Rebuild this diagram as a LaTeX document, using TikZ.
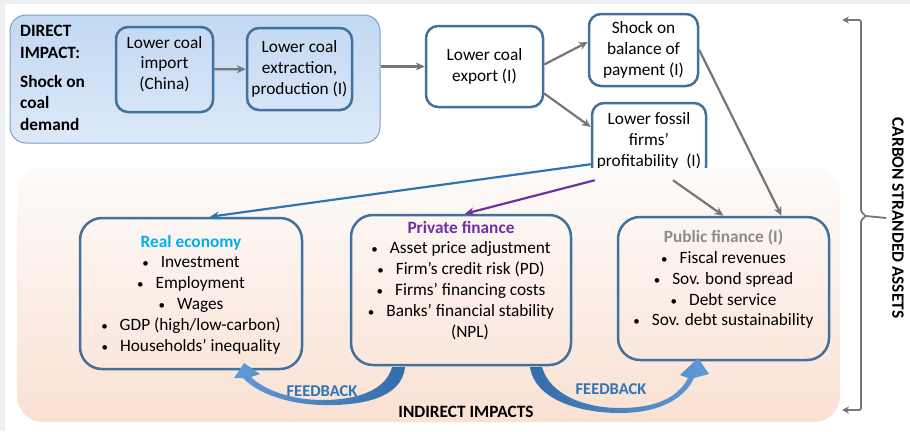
\documentclass[tikz,border=0pt]{standalone}
\usepackage{fontspec}
\setmainfont{Carlito}
\usepackage{xcolor}
\usetikzlibrary{arrows.meta, positioning, calc}
\definecolor{boxblue}{RGB}{65,113,156}
\definecolor{dirline}{RGB}{125,158,200}
\definecolor{dirtop}{RGB}{194,216,242}
\definecolor{dirbot}{RGB}{221,233,248}
\definecolor{paneltop}{RGB}{253,251,250}
\definecolor{panelbot}{RGB}{250,225,211}
\definecolor{arrgray}{RGB}{118,118,118}
\definecolor{lineblue}{RGB}{46,117,182}
\definecolor{purp}{RGB}{112,48,160}
\definecolor{reblue}{RGB}{0,176,240}
\definecolor{pubgray}{RGB}{140,140,140}
\definecolor{fbdark}{RGB}{52,108,170}
\definecolor{fblight}{RGB}{95,155,215}
\definecolor{frame}{RGB}{238,240,243}
\newcommand{\bpt}{{\fontsize{13}{13}\selectfont\textbullet}\hspace{12pt}}

\begin{document}
\begin{tikzpicture}[x=1pt, y=-1pt,
    every node/.style={font=\fontsize{17.3}{20.8}\selectfont, align=center, inner sep=0pt},
    box/.style={draw=boxblue, line width=2.5pt, rounded corners=12pt},
    bigbox/.style={draw=boxblue, line width=2.5pt, rounded corners=22pt},
    garrow/.style={draw=arrgray, line width=2.2pt, -{Stealth[length=9pt, width=8pt]}},
    hd/.style={font=\fontsize{17.3}{21.5}\selectfont\bfseries}]
    \useasboundingbox (0,0) rectangle (910,431);
    \fill[frame] (0,0) rectangle (910,4);
    \fill[frame] (0,0) rectangle (5,431);

    % 直接影响
    \node[draw=dirline, line width=1pt, rounded corners=16pt, top color=dirtop, bottom color=dirbot,
          minimum width=370pt, minimum height=128pt] (dir) at (195,79) {};
    \node[hd, anchor=north west, align=left] (dirt) at (20,25) {DIRECT\\IMPACT:};
    \node[hd, anchor=north west, align=left] (shock) at (20,75) {Shock on\\coal\\demand};
    \node[box, minimum width=97pt, minimum height=85pt] (imp) at (164.5,69.5) {};
    \node (impt) at (164.5,64) {Lower coal\\import\\(China)};
    \node[box, minimum width=105pt, minimum height=82pt] (extr) at (299.5,69) {Lower coal\\extraction,\\production (I)};
    \node[box, fill=white, minimum width=117pt, minimum height=81pt] (exp) at (484.5,66.5) {Lower coal\\export (I)};
    \node[box, fill=white, minimum width=109pt, minimum height=72pt] (bal) at (643.5,50) {Shock on\\balance of\\payment (I)};
    \node[box, fill=white, minimum width=114pt, minimum height=76pt] (prof) at (649,141) {Lower fossil\\firms’\\profitability~~(I)};

    \draw[garrow] (imp) -- (extr);
    \draw[garrow] (dir.east |- exp.west) -- (exp.west);
    \draw[garrow] ([yshift=2pt]exp.east) -- ([yshift=8pt]bal.west);
    \draw[garrow] ([yshift=-27pt]exp.east) -- ([yshift=14pt]prof.west);

    % 间接影响
    \node[rounded corners=26pt, top color=paneltop, bottom color=panelbot,
          minimum width=823pt, minimum height=254pt] (ind) at (428.5,295) {};
    \node[bigbox, minimum width=222pt, minimum height=151pt] (re) at (191,293.5) {};
    \node[bigbox, minimum width=220pt, minimum height=150pt] (pri) at (461,290) {};
    \node[bigbox, minimum width=211pt, minimum height=143pt] (pub) at (723.5,288.5) {};

    \node[below=18pt of re.north] (ret) {{\bfseries\color{reblue}Real economy}\\
        \bpt Investment\\
        \bpt Employment\\
        \bpt Wages\\
        \bpt GDP (high/low-carbon)\\
        \bpt Households’ inequality};
    \node[below=7pt of pri.north] (prit) {{\bfseries\color{purp}Private finance}\\
        \bpt Asset price adjustment\\
        \bpt Firm’s credit risk (PD)\\
        \bpt Firms’ financing costs\\
        \bpt Banks’ financial stability\\
        \hspace*{18pt}(NPL)};
    \node[below=14pt of pub.north] (pubt) {{\bfseries\color{pubgray}Public finance (I)}\\
        \bpt Fiscal revenues\\
        \bpt Sov. bond spread\\
        \bpt Debt service\\
        \bpt Sov. debt sustainability};

    \draw[lineblue, line width=2.2pt, -{Stealth[length=9pt, width=8pt]}] ([yshift=16pt]prof.south west) -- ([xshift=19pt]re.north);
    \draw[purp, line width=2.2pt, -{Stealth[length=9pt, width=8pt]}] ([xshift=4pt]prof.south west) -- ([xshift=4pt]pri.north);
    \draw[garrow] ([xshift=24pt]prof.south) -- (pub.north);
    \draw[garrow] (bal.east) -- ([xshift=58pt]pub.north);

    % 反馈
    \shade[left color=fblight, right color=fbdark]
        (405,367) .. controls (402,398) and (362,406) .. (322,405)
        .. controls (285,404) and (256,392) .. (243,378)
        -- (234,378) -- (244,363) -- (260,374) -- (251,377)
        .. controls (264,390) and (292,400) .. (322,400)
        .. controls (358,400) and (386,390) .. (392,367) -- cycle;
    \shade[left color=fbdark, right color=fblight]
        (530,367) .. controls (535,400) and (580,413) .. (620,413)
        .. controls (660,413) and (685,398) .. (694,378)
        -- (709,374) -- (698,358) -- (680,375) -- (688,378)
        .. controls (678,398) and (655,408) .. (620,408)
        .. controls (585,408) and (550,395) .. (542,367) -- cycle;
    \node[font=\fontsize{16.5}{18}\selectfont\bfseries, text=lineblue] (fb1) at (322,391) {FEEDBACK};
    \node[font=\fontsize{16.5}{18}\selectfont\bfseries, text=lineblue] (fb2) at (611,389) {FEEDBACK};
    \node[hd] (indt) at (466,412) {INDIRECT IMPACTS};

    % 右侧括号
    \coordinate (btop) at (842,20);
    \coordinate (bbot) at (842,410);
    \node[font=\fontsize{17.3}{18}\selectfont\bfseries, rotate=-90] (csa) at (898,218) {CARBON STRANDED ASSETS};
    \draw[arrgray, line width=1.8pt, rounded corners=2pt, {Stealth[length=7pt, width=7pt]}-{Stealth[length=7pt, width=7pt]}]
        (btop) -- (861,20) -- (861,212) -- (866,216) -- (861,220) -- (861,410) -- (bbot);
    \draw[arrgray, line width=1.8pt] (866,216) -- ([xshift=-6pt]csa.south);
\end{tikzpicture}
\end{document}
